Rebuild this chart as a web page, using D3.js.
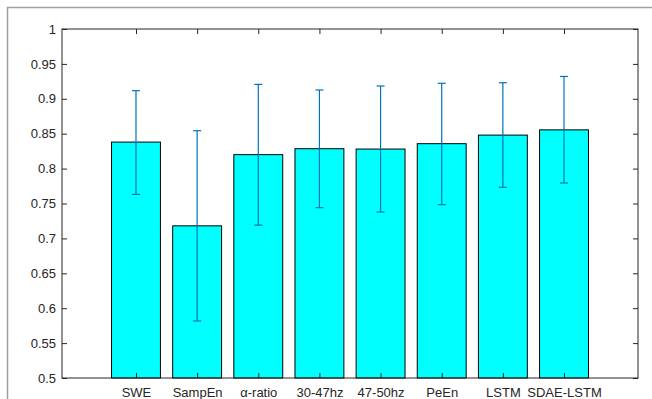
<!DOCTYPE html>
<html><head><meta charset="utf-8">
<script src="https://cdn.jsdelivr.net/npm/d3@7"></script>
<style>body{margin:0;background:#fff}svg{display:block}text{font-family:"Liberation Sans",Arial,sans-serif}</style>
</head><body>
<svg id="c" width="652" height="399"></svg>
<script>
const categories = ["SWE","SampEn","\u03b1-ratio","30-47hz","47-50hz","PeEn","LSTM","SDAE-LSTM"];
const means = [0.838,0.718,0.820,0.8285,0.828,0.8357,0.848,0.8555];
const upper = [0.9116,0.8543,0.9207,0.9126,0.9183,0.9222,0.923,0.932];
const lower = [0.763,0.5817,0.719,0.744,0.7378,0.7483,0.7732,0.7794];
const yTicks = [0.5,0.55,0.6,0.65,0.7,0.75,0.8,0.85,0.9,0.95,1];

const svg = d3.select("#c");
const L=62,R=638,T=29,B=378;
const x = d3.scaleLinear().domain([-0.21,9.21]).range([L,R]);
const y = d3.scaleLinear().domain([0.5,1]).range([B,T]);
const idx = categories.map((d,i)=>i+1);
const bw = 0.8;

// figure border (left/top)
svg.append("line").attr("x1",7.5).attr("x2",7.5).attr("y1",7).attr("y2",399).attr("stroke","#a0a0a0").attr("stroke-width",1.5);
svg.append("line").attr("x1",7).attr("x2",652).attr("y1",7.5).attr("y2",7.5).attr("stroke","#a0a0a0").attr("stroke-width",1.5);

// bars
svg.selectAll("rect.bar").data(means).enter().append("rect")
  .attr("x",(d,i)=>x(idx[i]-bw/2)).attr("width",x(bw)-x(0))
  .attr("y",d=>y(d)).attr("height",d=>y(0.5)-y(d))
  .attr("fill","#00ffff").attr("stroke","#000").attr("stroke-width",1);

// axes
const col="#262626";
svg.append("rect").attr("x",L).attr("y",T).attr("width",R-L).attr("height",B-T).attr("fill","none").attr("stroke",col).attr("stroke-width",1);
const left = d3.axisLeft(y).tickValues(yTicks).tickSize(-5).tickPadding(6).tickFormat(d=>d3.format("")(+d.toFixed(2)));
const gl = svg.append("g").attr("transform",`translate(${L},0)`).call(left);
const gr = svg.append("g").attr("transform",`translate(${R},0)`).call(d3.axisRight(y).tickValues(yTicks).tickSize(-5).tickFormat(""));
const gb = svg.append("g").attr("transform",`translate(0,${B})`).call(d3.axisBottom(x).tickValues(idx).tickSize(-5).tickPadding(10).tickFormat((d,i)=>categories[i]));
const gt = svg.append("g").attr("transform",`translate(0,${T})`).call(d3.axisTop(x).tickValues(idx).tickSize(-5).tickFormat(""));
[gl,gr,gb,gt].forEach(g=>{g.select(".domain").remove();g.selectAll("line").attr("stroke",col);g.selectAll("text").attr("fill",col).style("font-size","13px").style("font-family","'Liberation Sans',Arial,sans-serif");});

// error bars
const eb = svg.append("g").attr("stroke","#0072bd").attr("stroke-width",1.2);
means.forEach((m,i)=>{
  const cx = x(idx[i]);
  eb.append("line").attr("x1",cx).attr("x2",cx).attr("y1",y(upper[i])).attr("y2",y(lower[i]));
  eb.append("line").attr("x1",cx-4).attr("x2",cx+4).attr("y1",y(upper[i])).attr("y2",y(upper[i]));
  eb.append("line").attr("x1",cx-4).attr("x2",cx+4).attr("y1",y(lower[i])).attr("y2",y(lower[i]));
});
</script>
</body></html>
